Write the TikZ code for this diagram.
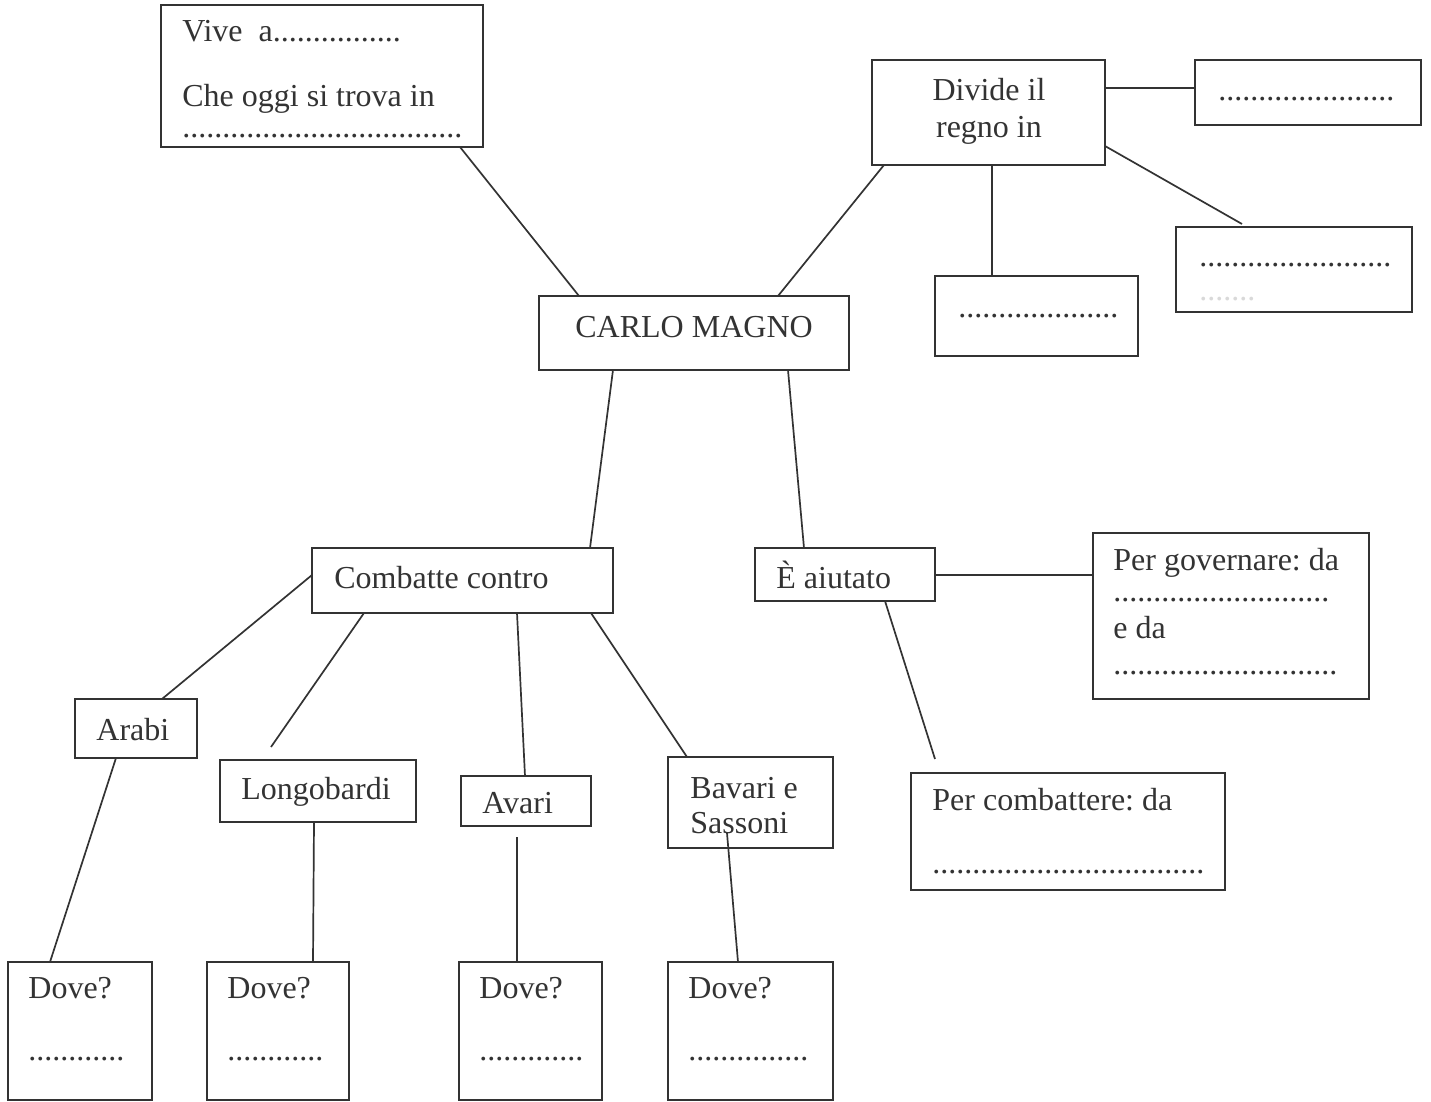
\documentclass[tikz,border=0pt]{standalone}
\usepackage{fontspec}
\setmainfont{Liberation Serif}
\usetikzlibrary{calc}
\definecolor{ink}{HTML}{333333}
\newcommand{\puntini}[1]{\foreach \i in {1,...,#1}{.}}
\frenchspacing

\begin{document}
\begin{tikzpicture}[x=0.5pt,y=-0.5pt,
    box/.style 2 args={draw=ink, line width=1.3pt, rectangle, inner sep=0pt, outer sep=0pt,
        anchor=north west, minimum width=#1*0.5pt, minimum height=#2*0.5pt},
    txt/.style={anchor=base west, inner sep=0pt, text=ink, font=\fontsize{16}{19}\selectfont},
    link/.style={draw=ink, line width=0.85pt}]
    \useasboundingbox (0,0) rectangle (1431,1102);

    % Carlo Magno in the middle
    \node[box={310}{74}] (carlo) at (539,296) {};
    \node[txt] (carlo-t) at (575,337) {CARLO MAGNO};

    % Where he lives
    \node[box={322}{142}] (vive) at (161,5) {};
    \node[txt] (vive-t1) at (182,42) {Vive\ \ a\puntini{16}};
    \node[txt] (vive-t2) at (182,107) {Che oggi si trova in};
    \node[txt] (vive-t3) at (182,138) {\puntini{35}};

    % The kingdom
    \node[box={233}{105}] (divide) at (872,60) {};
    \node[txt, anchor=base] (divide-t1) at (989,101) {Divide il};
    \node[txt, anchor=base] (divide-t2) at (989,138) {regno in};
    \node[box={226}{65}] (regnoA) at (1195,60) {};
    \node[txt] (regnoA-t) at (1218,101) {\puntini{22}};
    \node[box={203}{80}] (regnoB) at (935,276) {};
    \node[txt] (regnoB-t) at (958,317) {\puntini{20}};
    \node[box={236}{85}] (regnoC) at (1176,227) {};
    \node[txt] (regnoC-t) at (1199,266) {\puntini{24}};
    \node[txt, text=gray!30] (regnoC-f) at (1199,300) {\puntini{7}};

    % Helpers
    \node[box={180}{53}] (aiutato) at (755,548) {};
    \node[txt] (aiutato-t) at (776,588) {È aiutato};
    \node[box={276}{166}] (governo) at (1093,533) {};
    \node[txt] (governo-t1) at (1113,570) {Per governare: da};
    \node[txt] (governo-t2) at (1113,601) {\puntini{27}};
    \node[txt] (governo-t3) at (1113,638) {e da};
    \node[txt] (governo-t4) at (1113,674) {\puntini{28}};
    \node[box={314}{117}] (esercito) at (911,773) {};
    \node[txt] (esercito-t1) at (932,810) {Per combattere: da};
    \node[txt] (esercito-t2) at (932,873) {\puntini{34}};

    % Enemies
    \node[box={301}{65}] (combatte) at (312,548) {};
    \node[txt] (combatte-t) at (334,588) {Combatte contro};
    \node[box={122}{59}] (arabi) at (75,699) {};
    \node[txt] (arabi-t) at (96,740) {Arabi};
    \node[box={196}{62}] (longob) at (220,760) {};
    \node[txt] (longob-t) at (241,799) {Longobardi};
    \node[box={130}{50}] (avari) at (461,776) {};
    \node[txt] (avari-t) at (482,813) {Avari};
    \node[box={165}{91}] (bavari) at (668,757) {};
    \node[txt] (bavari-t1) at (690,798) {Bavari e};
    \node[txt] (bavari-t2) at (690,833) {Sassoni};

    % Dove?
    \foreach \n/\x/\w/\k in {1/8/144/12, 2/207/142/12, 3/459/143/13, 4/668/165/15} {
        \node[box={\w}{138}] (dove\n) at (\x,962) {};
        \node[txt] (dove\n-t1) at (\x+20,998) {Dove?};
        \node[txt] (dove\n-t2) at (\x+20,1060) {\puntini{\k}};
    }

    % loose ends
    \coordinate (esercito-gap) at ($(esercito.north west)+(24,-14)$);
    \coordinate (longob-gap) at ($(longob.north west)+(51,-13)$);
    \coordinate (avari-gap) at ($(avari.south west)+(56,11)$);
    \coordinate (bavari-in) at ($(bavari.south west)+(59,-15)$);

    % connectors
    \draw[link] ($(vive.south west)+(299,0)$) -- ($(carlo.north west)+(40,0)$);
    \draw[link] ($(divide.south west)+(12,0)$) -- ($(carlo.north west)+(239,0)$);
    \draw[link] ($(divide.north east)+(0,28)$) -- ($(regnoA.north west)+(0,28)$);
    \draw[link] ($(divide.south west)+(120,0)$) -- ($(regnoB.north west)+(57,0)$);
    \draw[link] ($(divide.north east)+(0,86)$) -- ($(regnoC.north west)+(66,-3)$);
    \draw[link] ($(carlo.south west)+(74,0)$) -- ($(combatte.north west)+(278,0)$);
    \draw[link] ($(carlo.south west)+(249,0)$) -- ($(aiutato.north west)+(49,0)$);
    \draw[link] ($(aiutato.north east)+(0,27)$) -- ($(governo.north west)+(0,42)$);
    \draw[link] ($(aiutato.south west)+(130,0)$) -- (esercito-gap);
    \draw[link] ($(combatte.north west)+(0,27)$) -- ($(arabi.north west)+(87,0)$);
    \draw[link] ($(combatte.south west)+(52,0)$) -- (longob-gap);
    \draw[link] ($(combatte.south west)+(205,0)$) -- ($(avari.north west)+(64,0)$);
    \draw[link] ($(combatte.south west)+(279,0)$) -- ($(bavari.north west)+(19,0)$);
    \draw[link] ($(arabi.south west)+(41,0)$) -- ($(dove1.north west)+(42,0)$);
    \draw[link] ($(longob.south west)+(94,0)$) -- ($(dove2.north west)+(106,0)$);
    \draw[link] (avari-gap) -- ($(dove3.north west)+(58,0)$);
    \draw[link] (bavari-in) -- ($(dove4.north west)+(70,0)$);
\end{tikzpicture}
\end{document}
